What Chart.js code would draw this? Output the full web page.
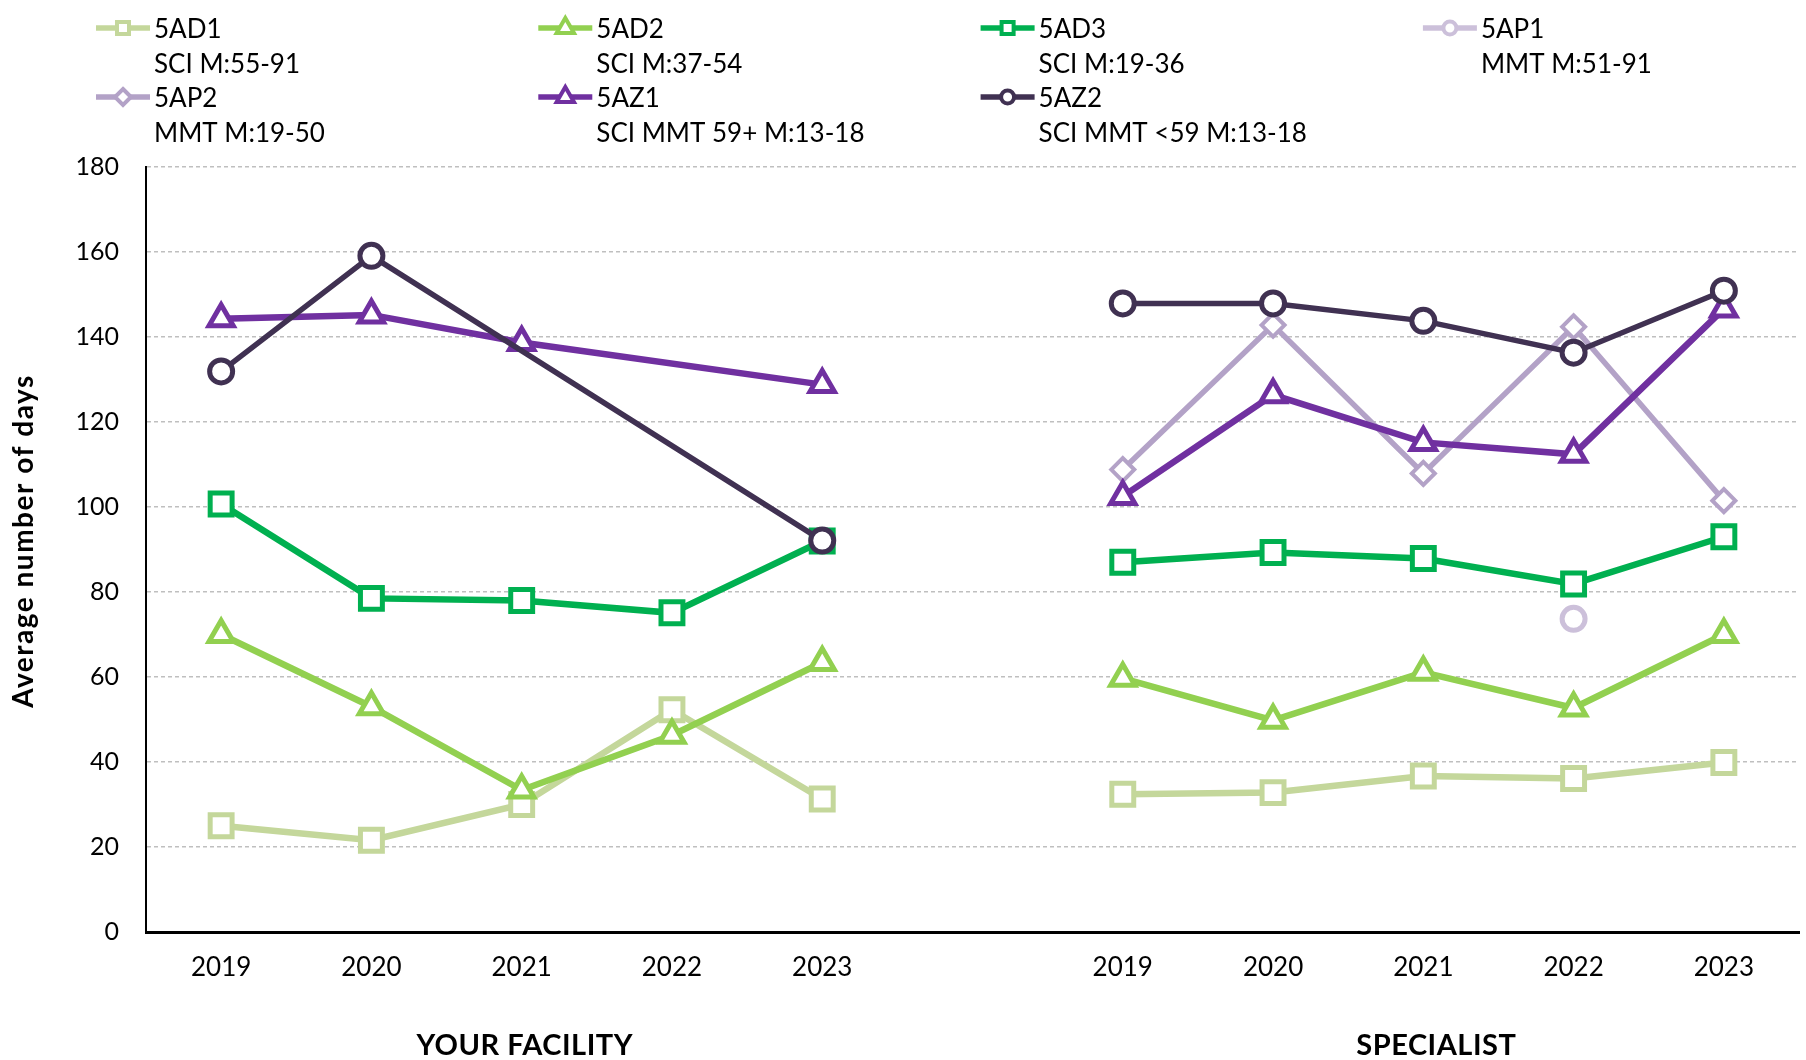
<!DOCTYPE html>
<html>
<head>
<meta charset="utf-8">
<script src="https://cdn.jsdelivr.net/npm/chart.js@4.4.1/dist/chart.umd.min.js"></script>
<style>
  html, body { margin: 0; padding: 0; background: #fff; overflow: hidden; }
  #wrap { width: 1806px; height: 1060px; }
</style>
</head>
<body>
<div id="wrap"><canvas id="chart" width="1806" height="1060"></canvas></div>
<script>
// ---- data -------------------------------------------------------------
const years = ['2019', '2020', '2021', '2022', '2023'];
const groups = ['YOUR FACILITY', 'SPECIALIST'];

const seriesCodes = ['5AD1', '5AD2', '5AD3', '5AP1', '5AP2', '5AZ1', '5AZ2'];
const seriesNotes = ['SCI M:55-91', 'SCI M:37-54', 'SCI M:19-36', 'MMT M:51-91',
                     'MMT M:19-50', 'SCI MMT 59+ M:13-18', 'SCI MMT <59 M:13-18'];

// average number of days, per year: facility group, then specialist group
const ad1Facility   = [25, 21.6, 30, 52.3, 31.3];
const ad1Specialist = [32.4, 32.8, 36.7, 36.1, 39.9];
const ad2Facility   = [70, 53, 33.4, 46.3, 63.4];
const ad2Specialist = [59.7, 49.8, 61.1, 52.7, 70];
const ad3Facility   = [100.7, 78.5, 78, 75.1, 92];
const ad3Specialist = [87, 89.3, 87.9, 81.9, 93];
const ap1Facility   = [null, null, null, null, null];
const ap1Specialist = [null, null, null, 73.7, null];
const ap2Facility   = [null, null, null, null, null];
const ap2Specialist = [108.8, 142.8, 107.9, 142.4, 101.5];
const az1Facility   = [144.3, 145.2, 138.7, null, 128.8];
const az1Specialist = [102.5, 126.4, 115.2, 112.4, 146.6];
const az2Facility   = [131.9, 159.1, null, null, 92.1];
const az2Specialist = [147.9, 147.9, 143.8, 136.3, 150.9];

const yMin = 0, yMax = 180, yStep = 20;

// ---- helpers ----------------------------------------------------------
const GAP = years.length;                       // empty slot between the two groups
const labels = [...years, '', ...years];
const joinGroups = (a, b) => [...a, null, ...b];

const seriesData = [
  joinGroups(ad1Facility, ad1Specialist),
  joinGroups(ad2Facility, ad2Specialist),
  joinGroups(ad3Facility, ad3Specialist),
  joinGroups(ap1Facility, ap1Specialist),
  joinGroups(ap2Facility, ap2Specialist),
  joinGroups(az1Facility, az1Specialist),
  joinGroups(az2Facility, az2Specialist)
];

const seriesStyle = [
  { color: '#c4d79b', shape: 'rect',     r: 15.5, pw: 5,   lw: 6.5, lr: 8.5 },
  { color: '#92d050', shape: 'triangle', r: 14,   pw: 5,   lw: 6.5, lr: 10 },
  { color: '#00b050', shape: 'rect',     r: 15.5, pw: 5,   lw: 6.5, lr: 8.5 },
  { color: '#ccc0da', shape: 'circle',   r: 11.5, pw: 5,   lw: 6.5, lr: 6.5 },
  { color: '#b3a2c7', shape: 'rectRot',  r: 11.5, pw: 4,   lw: 5.5, lr: 8 },
  { color: '#7030a0', shape: 'triangle', r: 14,   pw: 5,   lw: 6.5, lr: 10 },
  { color: '#403152', shape: 'circle',   r: 11.5, pw: 5,   lw: 5.5, lr: 6.5 }
];

const FONT = 'Lato, "Noto Sans", sans-serif';

// segments touching the empty slot are the ones bridging the two groups
const touchesGap = ctx => ctx.p0DataIndex === GAP || ctx.p1DataIndex === GAP;

const datasets = seriesData.map((data, i) => {
  const s = seriesStyle[i];
  return {
    label: seriesCodes[i],
    data,
    borderColor: s.color,
    backgroundColor: s.color,
    borderWidth: s.lw,
    pointStyle: s.shape,
    pointRadius: s.r,
    pointHoverRadius: s.r,
    pointBorderWidth: s.pw,
    pointBorderColor: s.color,
    pointBackgroundColor: '#ffffff',
    spanGaps: true,
    tension: 0,
    order: seriesData.length - i,
    segment: { borderColor: ctx => touchesGap(ctx) ? 'rgba(0,0,0,0)' : undefined }
  };
});

function drawMarker(ctx, shape, x, y, r) {
  ctx.beginPath();
  if (shape === 'rect') {
    const h = r * Math.SQRT1_2;
    ctx.rect(x - h, y - h, 2 * h, 2 * h);
  } else if (shape === 'circle') {
    ctx.arc(x, y, r, 0, Math.PI * 2);
  } else if (shape === 'triangle') {
    for (let k = 0; k < 3; k++) {
      const a = k * 2 * Math.PI / 3;
      const px = x + r * Math.sin(a), py = y - r * Math.cos(a);
      k ? ctx.lineTo(px, py) : ctx.moveTo(px, py);
    }
    ctx.closePath();
  } else if (shape === 'rectRot') {
    ctx.moveTo(x, y - r); ctx.lineTo(x + r, y); ctx.lineTo(x, y + r); ctx.lineTo(x - r, y);
    ctx.closePath();
  }
  ctx.fill();
  ctx.stroke();
}

// two-line legend, four entries per row
const legendPlugin = {
  id: 'twoLineLegend',
  afterDraw(chart, args, opts) {
    const ctx = chart.ctx;
    ctx.save();
    chart.data.datasets.forEach((ds, i) => {
      const s = seriesStyle[i];
      const col = i % opts.perRow, row = Math.floor(i / opts.perRow);
      const tx = opts.x0 + col * opts.colW;
      const ty = opts.y0 + row * opts.rowH;
      ctx.strokeStyle = s.color;
      ctx.lineWidth = 5.5;
      ctx.beginPath();
      ctx.moveTo(tx - 58, ty);
      ctx.lineTo(tx - 4, ty);
      ctx.stroke();
      ctx.fillStyle = '#fff';
      ctx.lineWidth = 4;
      drawMarker(ctx, s.shape, tx - 31, ty, s.lr);
      ctx.fillStyle = '#000';
      ctx.font = '26px ' + FONT;
      ctx.textAlign = 'left';
      ctx.textBaseline = 'middle';
      ctx.fillText(ds.label, tx, ty + 2);
      ctx.fillText(seriesNotes[i], tx, ty + 2 + opts.lineH);
    });
    ctx.restore();
  }
};

// group captions under the year labels and the rotated value-axis caption
const captionPlugin = {
  id: 'captions',
  afterDraw(chart, args, opts) {
    const ctx = chart.ctx;
    const x = chart.scales.x;
    ctx.save();
    ctx.fillStyle = '#000';
    ctx.font = 'bold 29px ' + FONT;
    ctx.letterSpacing = '0.5px';
    ctx.textAlign = 'center';
    ctx.textBaseline = 'middle';
    groups.forEach((g, gi) => {
      const first = gi * (GAP + 1), last = first + GAP - 1;
      const cx = (x.getPixelForValue(first) + x.getPixelForValue(last)) / 2 + opts.groupShift[gi];
      ctx.fillText(g, cx, opts.groupY);
    });
    ctx.translate(opts.titleX, opts.titleY);
    ctx.rotate(-Math.PI / 2);
    ctx.font = 'bold 28px ' + FONT;
    ctx.letterSpacing = '1.5px';
    ctx.fillText('Average number of days', 0, 0);
    ctx.restore();
  }
};

new Chart(document.getElementById('chart'), {
  type: 'line',
  data: { labels, datasets },
  plugins: [legendPlugin, captionPlugin],
  options: {
    responsive: false,
    animation: false,
    devicePixelRatio: 1,
    layout: { autoPadding: false, padding: { top: 167, right: 7, left: 0, bottom: 0 } },
    plugins: {
      legend: { display: false },
      tooltip: { enabled: false },
      twoLineLegend: { x0: 154, y0: 28, colW: 442.3, rowH: 69, lineH: 35, perRow: 4 },
      captions: { groupY: 1046, groupShift: [3, 13], titleX: 24, titleY: 541 }
    },
    scales: {
      x: {
        type: 'category',
        offset: true,
        grid: { display: false, drawTicks: false },
        border: { display: true, color: '#000', width: 3 },
        ticks: { color: '#000', font: { family: FONT, size: 26 }, padding: 20, autoSkip: false, maxRotation: 0 },
        afterFit: s => { s.height = 128; s.paddingLeft = 0; s.paddingRight = 0; }
      },
      y: {
        min: yMin,
        max: yMax,
        ticks: { stepSize: yStep, color: '#000', font: { family: FONT, size: 25 }, padding: 27 },
        grid: {
          drawTicks: false,
          lineWidth: 1.5,
          color: c => (c.tick && c.tick.value === 0) ? 'rgba(0,0,0,0)' : '#bfbfbf'
        },
        border: { display: true, color: '#000', width: 2, dash: [4, 3] },
        afterFit: s => { s.width = 146; s.paddingTop = 0; s.paddingBottom = 0; }
      }
    }
  }
});
</script>
</body>
</html>
